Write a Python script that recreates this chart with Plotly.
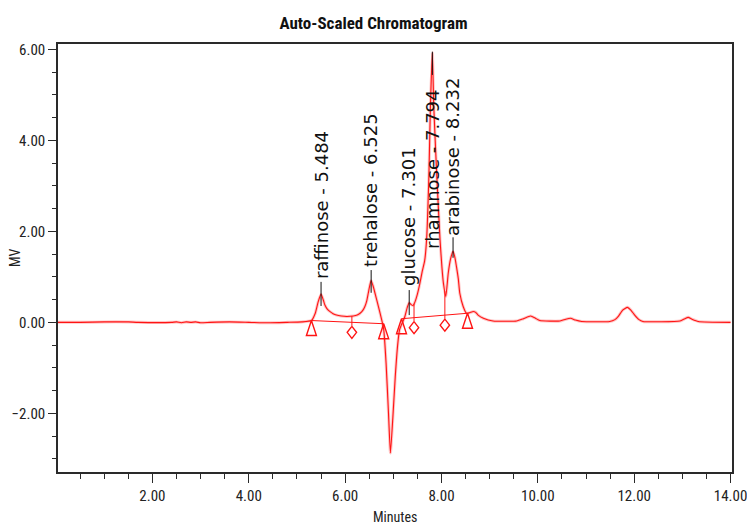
import numpy as np
import plotly.graph_objects as go

# ---------------- data ----------------
curve_t = [0.04, 0.5, 1.0, 1.5, 1.7, 2.4, 2.5, 2.6, 2.7, 2.8, 2.9, 3.0, 3.2, 3.6, 4.0, 4.4, 4.8, 5.1,
           5.30, 5.38, 5.44, 5.50, 5.55, 5.58, 5.63, 5.68, 5.75, 5.82, 5.92, 6.03, 6.17, 6.25, 6.31,
           6.37, 6.41, 6.45, 6.48, 6.51, 6.54, 6.58, 6.62, 6.69, 6.76, 6.80, 6.85, 6.90, 6.94, 6.99,
           7.04, 7.09, 7.13, 7.17, 7.24, 7.29, 7.33, 7.37, 7.41, 7.45, 7.50, 7.55, 7.60, 7.65, 7.69,
           7.74, 7.77, 7.81, 7.84, 7.90, 7.97, 8.01, 8.04, 8.09, 8.14, 8.19, 8.24, 8.28, 8.31, 8.35,
           8.38, 8.45, 8.52, 8.58, 8.66, 8.71, 8.76, 8.87, 9.07, 9.56, 9.70, 9.85, 9.95, 10.04, 10.46,
           10.58, 10.68, 10.78, 10.91, 11.49, 11.60, 11.67, 11.76, 11.86, 11.93, 12.01, 12.10, 12.18,
           12.95, 13.05, 13.12, 13.20, 13.33, 14.0]
curve_mv = [0.00, 0.00, 0.01, 0.01, 0.00, 0.00, 0.01, -0.01, 0.01, 0.00, 0.01, -0.01, 0.00, 0.01, 0.00, -0.01, 0.00, 0.01,
            0.04, 0.20, 0.45, 0.62, 0.48, 0.38, 0.29, 0.24, 0.19, 0.16, 0.14, 0.13, 0.14, 0.16, 0.20,
            0.27, 0.35, 0.48, 0.64, 0.80, 0.92, 0.80, 0.64, 0.35, 0.05, -0.15, -0.90, -2.00, -2.87, -2.10,
            -1.20, -0.50, -0.16, -0.05, 0.13, 0.33, 0.43, 0.39, 0.37, 0.45, 0.62, 0.85, 1.12, 1.35, 1.81,
            3.28, 4.74, 5.93, 4.74, 3.28, 1.81, 1.20, 0.86, 0.57, 1.08, 1.40, 1.56, 1.42, 1.23, 0.95,
            0.64, 0.35, 0.20, 0.21, 0.24, 0.22, 0.16, 0.09, 0.03, 0.03, 0.08, 0.14, 0.09, 0.04, 0.03,
            0.07, 0.09, 0.05, 0.02, 0.02, 0.06, 0.13, 0.27, 0.33, 0.27, 0.16, 0.06, 0.02,
            0.03, 0.08, 0.11, 0.07, 0.02, 0.00]

peak_names = ["raffinose", "trehalose", "glucose", "rhamnose", "arabinose"]
peak_rt_label = ["5.484", "6.525", "7.301", "7.794", "8.232"]
peak_t = [5.50, 6.54, 7.33, 7.81, 8.24]            # apex position on the plotted time axis
leader_top = [0.89, 1.15, 0.71, 5.95, 1.87]        # MV
leader_bottom = [0.36, 0.65, 0.16, 5.44, 1.42]     # MV
label_base = [0.93, 1.20, 0.77, 1.59, 1.88]        # MV, bottom of each rotated label

tri_t = [5.30, 6.80, 7.17, 8.54]        # baseline start/end events
tri_mv = [0.04, -0.03, 0.08, 0.20]
dia_t = [6.14, 7.43, 8.07]              # drop-line events
base_seg_start = [(5.30, 0.04), (7.17, 0.08)]
base_seg_end = [(6.80, -0.03), (8.54, 0.20)]

x_ticks = [2, 4, 6, 8, 10, 12, 14]
y_ticks = [-2, 0, 2, 4, 6]

# ---------------- layout geometry ----------------
W, H = 747, 525
ml, mr, mt, mb = 58, 15, 44, 53
x_range = [0.04, 14.03]
y_range = [-3.29, 6.12]
px_per_t = (W - ml - mr) / (x_range[1] - x_range[0])
px_per_mv = (H - mt - mb) / (y_range[1] - y_range[0])

RED = "rgb(255,20,20)"
fig = go.Figure()

# soft halo + main trace
fig.add_trace(go.Scatter(x=curve_t, y=curve_mv, mode="lines",
                         line=dict(color="rgba(255,90,90,0.35)", width=3, shape="spline", smoothing=0.5),
                         hoverinfo="skip", showlegend=False))
fig.add_trace(go.Scatter(x=curve_t, y=curve_mv, mode="lines",
                         line=dict(color=RED, width=1.1, shape="spline", smoothing=0.5),
                         showlegend=False))

# integration baselines
bx, by = [], []
for (t0, v0), (t1, v1) in zip(base_seg_start, base_seg_end):
    bx += [t0, t1, None]
    by += [v0, v1, None]
fig.add_trace(go.Scatter(x=bx, y=by, mode="lines", line=dict(color=RED, width=1),
                         hoverinfo="skip", showlegend=False))


def baseline_at(t):
    for (t0, v0), (t1, v1) in zip(base_seg_start, base_seg_end):
        if t0 <= t <= t1:
            return v0 + (v1 - v0) * (t - t0) / (t1 - t0)
    return 0.0


# triangles (apex on baseline)
tw, th = 5 / px_per_t, 15 / px_per_mv
txs, tys = [], []
for t, v in zip(tri_t, tri_mv):
    txs += [t, t - tw, t + tw, t, None]
    tys += [v, v - th, v - th, v, None]
fig.add_trace(go.Scatter(x=txs, y=tys, mode="lines", line=dict(color=RED, width=1.4),
                         hoverinfo="skip", showlegend=False))

# diamonds with drop lines
dw = 4.7 / px_per_t
dtop, dbot = 4 / px_per_mv, 16 / px_per_mv
dxs, dys, lxs, lys = [], [], [], []
for t in dia_t:
    b = baseline_at(t)
    c = float(np.interp(t, curve_t, curve_mv))
    top, bot = b - dtop, b - dbot
    mid = (top + bot) / 2
    dxs += [t, t + dw, t, t - dw, t, None]
    dys += [top, mid, bot, mid, top, None]
    lxs += [t, t, None]
    lys += [c, top, None]
fig.add_trace(go.Scatter(x=lxs, y=lys, mode="lines", line=dict(color=RED, width=1),
                         hoverinfo="skip", showlegend=False))
fig.add_trace(go.Scatter(x=dxs, y=dys, mode="lines", line=dict(color=RED, width=1.4),
                         hoverinfo="skip", showlegend=False))

# leader lines
lx, ly = [], []
for t, a, b in zip(peak_t, leader_top, leader_bottom):
    lx += [t, t, None]
    ly += [a, b, None]
fig.add_trace(go.Scatter(x=lx, y=ly, mode="lines", line=dict(color="#111", width=1),
                         hoverinfo="skip", showlegend=False))

# peak labels
for name, rt, t, yb in zip(peak_names, peak_rt_label, peak_t, label_base):
    fig.add_annotation(x=t, y=yb, xref="x", yref="y", text=f"{name} - {rt}",
                       textangle=-90, showarrow=False, xanchor="center", yanchor="bottom",
                       borderpad=0, font=dict(family="DejaVu Sans", size=18, color="#111"))

NARROW = "Liberation Sans Narrow, Arial Narrow, Roboto Condensed, DejaVu Sans Condensed, Liberation Sans"

# axis titles
fig.add_annotation(x=(15 - ml) / (W - ml - mr), y=0.5, xref="paper", yref="paper", text="MV",
                   textangle=-90, showarrow=False, xanchor="center", yanchor="middle",
                   font=dict(family=NARROW, size=14, color="#222"))
fig.add_annotation(x=0.5, y=-(517 - (H - mb)) / (H - mt - mb), xref="paper", yref="paper",
                   text="Minutes", showarrow=False, xanchor="center", yanchor="middle",
                   font=dict(family=NARROW, size=14, color="#222"))

axis_common = dict(showgrid=False, zeroline=False, showline=True, linecolor="#2a2a2a",
                   linewidth=1.6, mirror=True, ticks="outside", tickcolor="#2a2a2a",
                   tickwidth=1.3, tickformat=".2f", ticklabeloverflow="allow", automargin=False,
                   tickfont=dict(family=NARROW, size=15, color="#222"))

fig.update_layout(
    width=W, height=H,
    margin=dict(l=ml, r=mr, t=mt, b=mb, autoexpand=False),
    paper_bgcolor="white", plot_bgcolor="white",
    title=dict(text="<b>Auto-Scaled Chromatogram</b>", x=0.5, xanchor="center",
               y=1 - 23 / H, yanchor="middle",
               font=dict(family=NARROW, size=17, color="#111")),
    xaxis=dict(range=x_range, tickvals=x_ticks, ticklen=9,
               minor=dict(dtick=0.5, tick0=0, ticklen=5, ticks="outside", tickcolor="#2a2a2a", tickwidth=1.3),
               **axis_common),
    yaxis=dict(range=y_range, tickvals=y_ticks, ticklen=8,
               minor=dict(dtick=0.5, tick0=0, ticklen=4, ticks="outside", tickcolor="#2a2a2a", tickwidth=1.3),
               **axis_common),
    showlegend=False,
)

fig.write_html("out.html")
